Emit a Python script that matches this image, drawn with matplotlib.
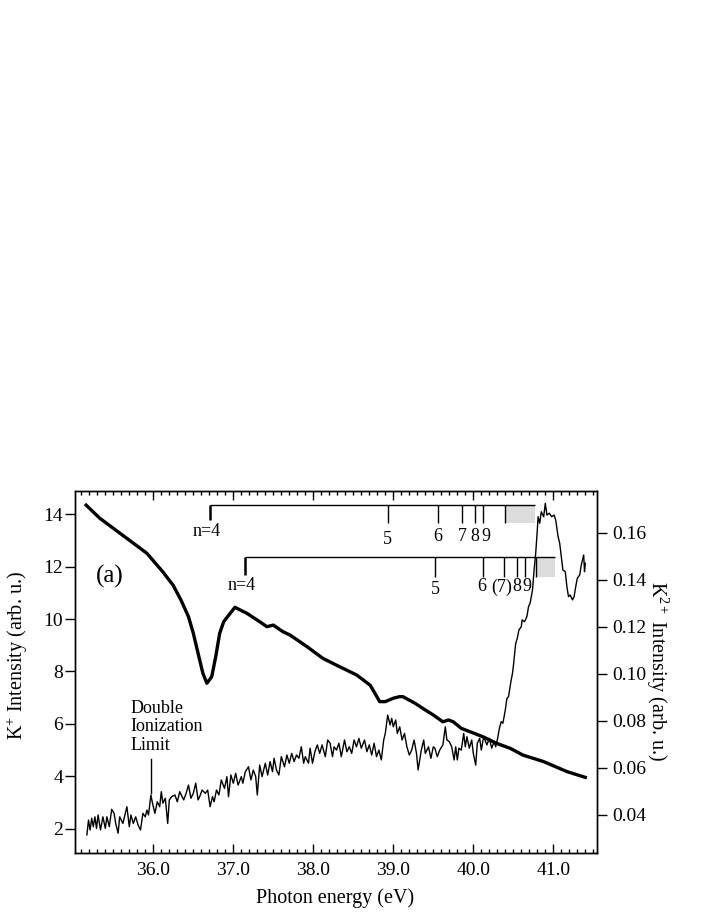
import matplotlib
matplotlib.use("Agg")
import matplotlib.pyplot as plt
from matplotlib.patches import Rectangle
from matplotlib.ticker import MultipleLocator, FormatStrFormatter
import matplotlib.transforms as mtransforms

plt.rcParams['font.family'] = ['Liberation Serif', 'DejaVu Serif']
plt.rcParams['mathtext.fontset'] = 'custom'
plt.rcParams['mathtext.rm'] = 'Liberation Serif'
plt.rcParams['mathtext.it'] = 'Liberation Serif:italic'
plt.rcParams['mathtext.bf'] = 'Liberation Serif:bold'

# ---------------- data ----------------
# K+ yield (left axis)
kp_energy = [35.16, 35.33, 35.67, 35.92, 36.12, 36.25, 36.35, 36.44, 36.50, 36.56,
             36.62, 36.67, 36.73, 36.78, 36.83, 36.88, 37.02, 37.17, 37.33, 37.42,
             37.50, 37.62, 37.71, 37.92, 38.12, 38.33, 38.54, 38.71, 38.77, 38.83,
             38.90, 39.00, 39.08, 39.12, 39.27, 39.40, 39.50, 39.62, 39.69, 39.75,
             39.85, 39.96, 40.12, 40.29, 40.46, 40.62, 40.88, 41.17, 41.40]
kp_intensity = [14.35, 13.85, 13.08, 12.51, 11.80, 11.28, 10.70, 10.09, 9.46, 8.69,
                7.93, 7.55, 7.80, 8.56, 9.46, 9.90, 10.45, 10.22, 9.90, 9.71,
                9.77, 9.52, 9.39, 8.95, 8.50, 8.18, 7.87, 7.48, 7.17, 6.85,
                6.85, 6.98, 7.04, 7.04, 6.79, 6.53, 6.34, 6.08, 6.15, 6.08,
                5.83, 5.70, 5.51, 5.26, 5.07, 4.81, 4.56, 4.18, 3.96]

# K2+ yield (right axis)
k2_energy = [35.17, 35.19, 35.21, 35.23, 35.25, 35.27, 35.29, 35.31, 35.34, 35.37,
             35.40, 35.42, 35.45, 35.48, 35.51, 35.53, 35.56, 35.58, 35.62, 35.65,
             35.67, 35.70, 35.72, 35.75, 35.78, 35.81, 35.84, 35.87, 35.90, 35.92,
             35.94, 35.97, 35.99, 36.02, 36.05, 36.08, 36.10, 36.12, 36.15, 36.18,
             36.20, 36.23, 36.27, 36.30, 36.33, 36.38, 36.41, 36.44, 36.47, 36.50,
             36.53, 36.56,
             36.58, 36.61, 36.65, 36.68, 36.71, 36.74, 36.76, 36.79, 36.82, 36.85,
             36.89, 36.92, 36.94, 36.97, 37.00, 37.03, 37.06, 37.10, 37.12, 37.15,
             37.19, 37.22, 37.25, 37.28, 37.30, 37.33, 37.36, 37.40, 37.43, 37.46,
             37.49, 37.51, 37.54, 37.57, 37.60, 37.64, 37.67, 37.70, 37.73, 37.76,
             37.79, 37.82, 37.85, 37.88, 37.90, 37.94, 37.96, 37.99, 38.02, 38.05,
             38.08, 38.11, 38.15, 38.18, 38.21, 38.24, 38.26, 38.29, 38.32, 38.35,
             38.39, 38.42, 38.45, 38.48, 38.51, 38.54, 38.57, 38.60, 38.64, 38.67,
             38.70, 38.73, 38.76, 38.79, 38.82, 38.85, 38.88, 38.90, 38.93, 38.96,
             38.98, 39.00, 39.03, 39.05, 39.08, 39.11, 39.14, 39.17, 39.20, 39.23,
             39.26, 39.29, 39.31, 39.35, 39.38, 39.40, 39.44, 39.47, 39.50,
             39.52, 39.55, 39.58, 39.62, 39.65, 39.67, 39.70, 39.73, 39.76, 39.78,
             39.80, 39.82, 39.85, 39.88, 39.90, 39.92, 39.95, 39.98, 40.00, 40.03,
             40.05, 40.08, 40.10, 40.13, 40.17, 40.20, 40.23, 40.26, 40.28, 40.30,
             40.33, 40.35, 40.37, 40.40, 40.42, 40.44, 40.47, 40.49,
             40.50, 40.53, 40.55, 40.57, 40.60, 40.61, 40.64, 40.67, 40.69, 40.71,
             40.74, 40.76, 40.78, 40.80, 40.81, 40.83, 40.85, 40.88, 40.90, 40.92,
             40.95, 40.98, 41.01, 41.03, 41.06, 41.08, 41.10, 41.12, 41.15, 41.17,
             41.19, 41.21, 41.24, 41.26, 41.28, 41.30, 41.33, 41.35, 41.38, 41.39, 41.40]
k2_intensity = [0.0314, 0.0377, 0.0335, 0.0385, 0.0349, 0.0391, 0.0342, 0.0399, 0.0335, 0.0391,
                0.0342, 0.0391, 0.0349, 0.0423, 0.0406, 0.0363, 0.0321, 0.0391, 0.0363, 0.0406,
                0.0434, 0.0349, 0.0399, 0.0363, 0.0391, 0.0356, 0.0335, 0.0406, 0.0391, 0.0420,
                0.0399, 0.0484, 0.0449, 0.0406, 0.0455, 0.0434, 0.0498, 0.0449, 0.0470, 0.0363,
                0.0463, 0.0477, 0.0484, 0.0455, 0.0498, 0.0463, 0.0491, 0.0526, 0.0470, 0.0491,
                0.0534, 0.0463,
                0.0477, 0.0505, 0.0491, 0.0505, 0.0434, 0.0477, 0.0455, 0.0505, 0.0484, 0.0548,
                0.0512, 0.0562, 0.0477, 0.0569, 0.0534, 0.0576, 0.0526, 0.0562, 0.0534, 0.0583,
                0.0604, 0.0548, 0.0590, 0.0562, 0.0484, 0.0611, 0.0562, 0.0619, 0.0569, 0.0626,
                0.0583, 0.0640, 0.0590, 0.0569, 0.0647, 0.0604, 0.0654, 0.0619, 0.0661, 0.0626,
                0.0654, 0.0640, 0.0689, 0.0619, 0.0647, 0.0619, 0.0683, 0.0619, 0.0668, 0.0697,
                0.0661, 0.0697, 0.0647, 0.0718, 0.0704, 0.0647, 0.0689, 0.0675, 0.0704, 0.0647,
                0.0718, 0.0668, 0.0689, 0.0661, 0.0718, 0.0689, 0.0725, 0.0683, 0.0718, 0.0668,
                0.0697, 0.0654, 0.0704, 0.0647, 0.0675, 0.0633, 0.0718, 0.0746, 0.0824, 0.0782,
                0.0810, 0.0774, 0.0803, 0.0746, 0.0774, 0.0718, 0.0746, 0.0689, 0.0654, 0.0675,
                0.0718, 0.0661, 0.0590, 0.0675, 0.0718, 0.0661, 0.0689, 0.0640, 0.0689,
                0.0683, 0.0647, 0.0675, 0.0697, 0.0774, 0.0718, 0.0711, 0.0689, 0.0633, 0.0689,
                0.0633, 0.0683, 0.0675, 0.0746, 0.0689, 0.0732, 0.0683, 0.0718, 0.0661, 0.0611,
                0.0704, 0.0725, 0.0675, 0.0732, 0.0697, 0.0725, 0.0683, 0.0711, 0.0689, 0.0718,
                0.0774, 0.0796, 0.0789, 0.0846, 0.0895, 0.0902, 0.0966, 0.1002,
                0.1030, 0.1129, 0.1151, 0.1186, 0.1200, 0.1229, 0.1221, 0.1243, 0.1285, 0.1300,
                0.1356, 0.1441, 0.1512, 0.1611, 0.1668, 0.1640, 0.1689, 0.1668, 0.1725, 0.1675,
                0.1683, 0.1668, 0.1675, 0.1654, 0.1583, 0.1555, 0.1498, 0.1441, 0.1434, 0.1370,
                0.1328, 0.1335, 0.1314, 0.1328, 0.1370, 0.1406, 0.1420, 0.1463, 0.1505, 0.1434, 0.1470]

# Rydberg series markers (energies in eV)
upper_start = 36.71
upper_levels = [38.93, 39.56, 39.86, 40.02, 40.12]
upper_label_x = [38.93, 39.56, 39.86, 40.02, 40.16]
upper_labels = ['5', '6', '7', '8', '9']
upper_limit = [40.40, 40.77]

lower_start = 37.15
lower_levels = [39.52, 40.12, 40.38, 40.55, 40.65]
lower_label_x = [39.52, 40.10, 40.35, 40.54, 40.67]
lower_labels = ['5', '6', '(7)', '8', '9']
lower_limit = [40.78, 41.02]

dil_energy = 35.97
x_ticks = [36.0, 37.0, 38.0, 39.0, 40.0, 41.0]
left_ticks = [2, 4, 6, 8, 10, 12, 14]
right_ticks = [0.04, 0.06, 0.08, 0.10, 0.12, 0.14, 0.16]

# ---------------- figure ----------------
fig = plt.figure(figsize=(7.08, 9.17), dpi=100)
ax = fig.add_axes([0.1059, 0.0701, 0.7369, 0.3948])
ax2 = ax.twinx()

ax2.plot(k2_energy, k2_intensity, color='black', lw=1.0, zorder=2)
ax.plot(kp_energy, kp_intensity, color='black', lw=2.4, zorder=3)
ax.set_zorder(ax2.get_zorder() + 1)
ax.patch.set_visible(False)

ax.set_xlim(35.021, 41.5425)
ax.set_ylim(1.084, 14.90)
ax2.set_ylim(0.02383, 0.17787)

tick_fs = 14
ax.set_xticks(x_ticks)
ax.xaxis.set_major_formatter(FormatStrFormatter('%.1f'))
ax.xaxis.set_minor_locator(MultipleLocator(0.1))
ax.set_yticks(left_ticks)
ax2.set_yticks(right_ticks)
ax2.yaxis.set_major_formatter(FormatStrFormatter('%.2f'))

ax.tick_params(axis='x', which='major', direction='in', top=True, bottom=True,
               length=6.8, width=1.0, pad=7, labelsize=tick_fs)
ax.tick_params(axis='x', which='minor', direction='in', top=True, bottom=True,
               length=3.2, width=1.0)
ax.tick_params(axis='y', which='major', direction='out', length=7, width=1.0,
               pad=1.5, labelsize=tick_fs, right=False)
ax2.tick_params(axis='y', which='major', direction='out', length=7, width=1.0,
                pad=4.5, labelsize=tick_fs)
for a in (ax, ax2):
    for s in a.spines.values():
        s.set_linewidth(1.0)

ax.set_xlabel('Photon energy (eV)', fontsize=14.5, va='center')
ax.xaxis.set_label_coords(0.498, -0.125)
ax.set_ylabel('K$^{+}$ Intensity (arb. u.)', fontsize=14.5, va='center')
ax.yaxis.set_label_coords(-0.111, 0.546)
ax2.set_ylabel('K$^{2+}$ Intensity (arb. u.)', fontsize=14.5, rotation=270, va='center')
ax2.yaxis.set_label_coords(1.115, 0.502)

# ---------------- annotations ----------------
tr = mtransforms.blended_transform_factory(ax.transData, ax.transAxes)
ann_fs = 13


def draw_series(start, levels, label_x, labels, limit, y_line, y_n4_bot, y_tick_bot,
                y_n4_lab, y_5_lab, y_lab):
    ax.add_patch(Rectangle((limit[0], y_tick_bot), limit[1] - limit[0], y_line - y_tick_bot,
                           transform=tr, facecolor='#dcdcdc', edgecolor='none', zorder=1))
    ax.plot([start, limit[1]], [y_line, y_line], color='black', lw=1.0, transform=tr,
            solid_capstyle='butt', zorder=4)
    ax.plot([start, start], [y_line, y_n4_bot], color='black', lw=1.8, transform=tr,
            solid_capstyle='butt', zorder=4)
    for e in levels + [limit[0]]:
        ax.plot([e, e], [y_line, y_tick_bot], color='black', lw=1.0, transform=tr,
                solid_capstyle='butt', zorder=4)
    ax.text(start - 0.04, y_n4_lab, 'n=4', transform=tr, ha='center', va='center',
            fontsize=ann_fs)
    for i, (lx, lab) in enumerate(zip(label_x, labels)):
        yy = y_5_lab if i == 0 else y_lab
        ax.text(lx, yy, lab, transform=tr, ha='center', va='center', fontsize=ann_fs)


draw_series(upper_start, upper_levels, upper_label_x, upper_labels, upper_limit,
            0.9605, 0.919, 0.910, 0.887, 0.866, 0.873)
draw_series(lower_start, lower_levels, lower_label_x, lower_labels, lower_limit,
            0.816, 0.767, 0.762, 0.739, 0.727, 0.734)

ax.text(35.46, 0.762, '(a)', transform=tr, ha='center', va='center', fontsize=18)

ax.plot([dil_energy, dil_energy], [0.258, 0.165], color='black', lw=1.0, transform=tr)
ax.text(35.71, 0.348, 'Double\nIonization\nLimit', transform=tr, ha='left', va='center',
        fontsize=ann_fs, linespacing=1.12)

fig.savefig('out.png', dpi=100)
